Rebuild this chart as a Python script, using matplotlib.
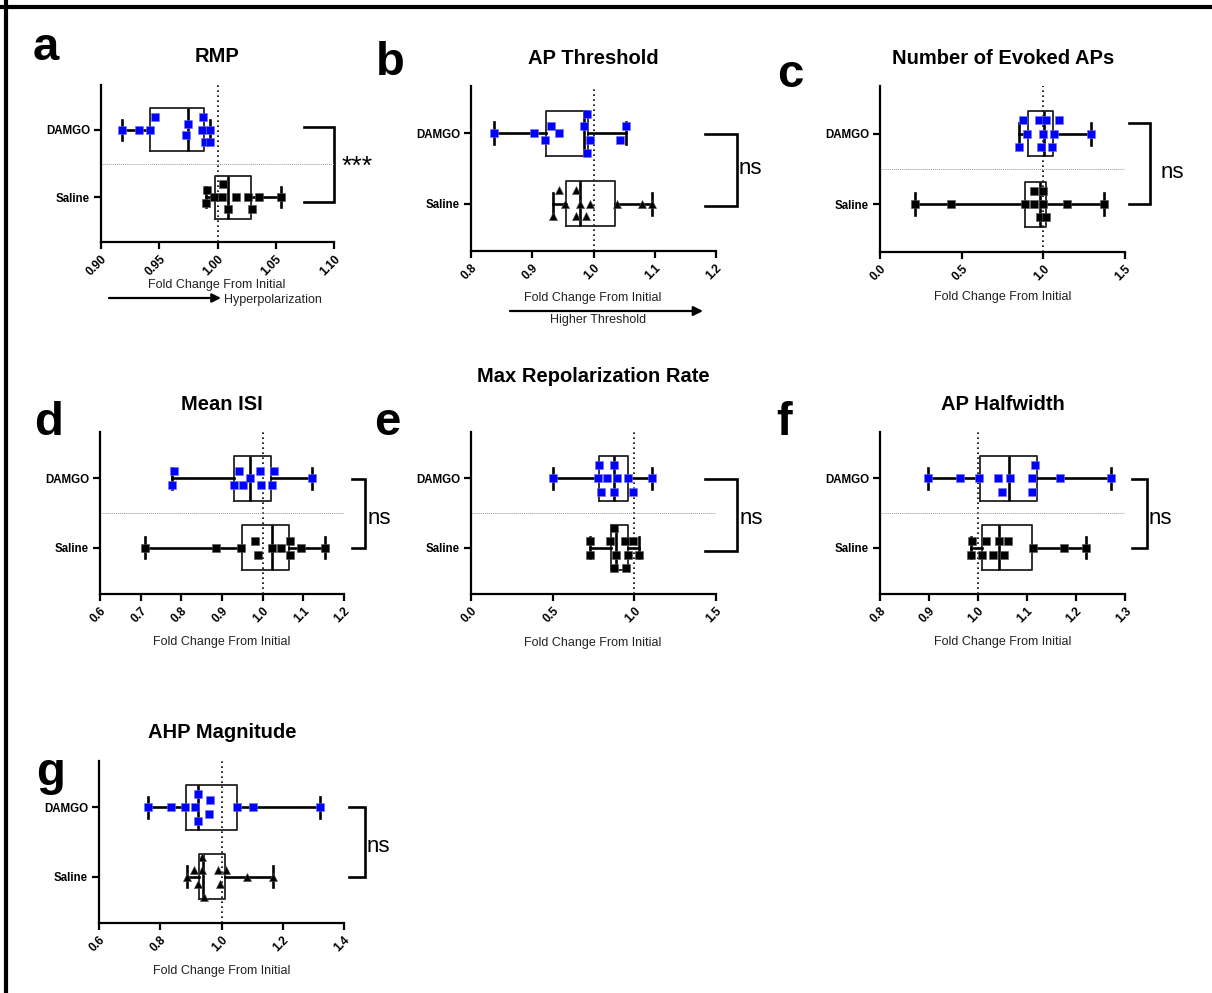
import numpy as np
import matplotlib
matplotlib.use("Agg")
import matplotlib.pyplot as plt

plt.rcParams['font.family'] = ['Liberation Sans', 'DejaVu Sans']

# ---------------- data (fold change from initial) ----------------
categories = ['DAMGO', 'Saline']

# a  RMP
rmp_damgo = [0.918, 0.9326, 0.9423, 0.946, 0.975, 0.9726, 0.9877, 0.9869, 0.9937, 0.989, 0.9937]
rmp_damgo_jit = [0, 0, 0, 0.19, 0.09, -0.075, 0.19, 0, 0, -0.18, -0.18]
rmp_saline = [0.9909, 0.990, 0.9969, 1.0037, 1.0043, 1.0086, 1.0163, 1.0263, 1.0297, 1.036, 1.0549]
rmp_saline_jit = [0.1, -0.09, 0, 0, 0.19, -0.18, 0, 0, -0.18, 0, 0]
rmp_damgo_box = [0.918, 0.9423, 0.975, 0.988, 0.9937]     # min, q1, median, q3, max
rmp_saline_box = [0.990, 0.9977, 1.0086, 1.0291, 1.0549]

# b  AP threshold
thr_damgo = [0.8376, 0.9023, 0.9312, 0.9431, 0.9214, 0.984, 0.990, 0.9943, 0.990, 1.0525, 1.0433]
thr_damgo_jit = [0, 0, 0.105, 0, -0.095, 0.105, 0.28, -0.095, -0.28, 0.105, -0.095]
thr_saline = [0.9339, 0.9437, 0.953, 0.9709, 0.972, 0.978, 0.9877, 0.9948, 1.0378, 1.0786, 1.0955]
thr_saline_jit = [-0.18, 0.195, 0, 0.195, -0.18, 0, -0.18, 0, 0, 0, 0]
thr_damgo_box = [0.8376, 0.923, 0.9845, 0.991, 1.0525]
thr_saline_box = [0.9339, 0.9546, 0.978, 1.0351, 1.0955]

# c  number of evoked APs
nap_damgo = [0.849, 0.876, 0.902, 0.971, 1.018, 0.998, 0.988, 1.053, 1.065, 1.098, 1.294]
nap_damgo_jit = [-0.19, 0.19, 0, 0.19, 0.19, 0, -0.19, -0.19, 0, 0.19, 0]
nap_saline = [0.216, 0.433, 0.886, 0.943, 0.943, 0.998, 0.998, 0.978, 1.018, 1.143, 1.369]
nap_saline_jit = [0, 0, 0, 0.19, 0, 0.19, 0, -0.18, -0.18, 0, 0]
nap_damgo_box = [0.849, 0.906, 1.004, 1.059, 1.294]
nap_saline_box = [0.216, 0.890, 0.978, 1.014, 1.369]

# d  mean ISI
isi_damgo = [0.782, 0.777, 0.929, 0.9425, 0.952, 0.969, 0.993, 0.9965, 1.022, 1.027, 1.1215]
isi_damgo_jit = [0.1, -0.09, -0.09, 0.1, -0.09, 0, 0.1, -0.09, -0.09, 0.1, 0]
isi_saline = [0.7095, 0.886, 0.947, 0.980, 0.989, 1.024, 1.046, 1.066, 1.066, 1.0946, 1.153]
isi_saline_jit = [0, 0, 0, 0.09, -0.1, 0, 0, 0.09, -0.1, 0, 0]
isi_damgo_box = [0.777, 0.9294, 0.9687, 1.0194, 1.1215]
isi_saline_box = [0.7095, 0.950, 1.0226, 1.064, 1.153]

# e  max repolarization rate
rep_damgo = [0.502, 0.782, 0.778, 0.798, 0.835, 0.878, 0.896, 0.876, 0.963, 0.994, 1.108]
rep_damgo_jit = [0, 0.19, 0, -0.19, 0, 0.19, 0, -0.19, 0, -0.19, 0]
rep_saline = [0.731, 0.731, 0.853, 0.878, 0.878, 0.890, 0.943, 0.990, 0.963, 0.949, 1.027]
rep_saline_jit = [0.09, -0.1, 0.09, 0.28, -0.29, -0.1, 0.09, 0.09, -0.1, -0.29, -0.1]
rep_damgo_box = [0.502, 0.784, 0.873, 0.959, 1.108]
rep_saline_box = [0.731, 0.857, 0.890, 0.959, 1.027]

# f  AP halfwidth
hw_damgo = [0.8986, 0.964, 1.0014, 1.0415, 1.048, 1.0646, 1.110, 1.1163, 1.110, 1.168, 1.272]
hw_damgo_jit = [0, 0, 0, 0, -0.19, 0, 0, 0.19, -0.19, 0, 0]
hw_saline = [0.988, 0.985, 1.0075, 1.0156, 1.030, 1.043, 1.054, 1.062, 1.113, 1.1755, 1.2204]
hw_saline_jit = [0.09, -0.1, -0.1, 0.09, -0.1, 0.09, -0.1, 0.09, 0, 0, 0]
hw_damgo_box = [0.8986, 1.0034, 1.064, 1.121, 1.272]
hw_saline_box = [0.985, 1.0088, 1.042, 1.111, 1.2204]

# g  AHP magnitude
ahp_damgo = [0.761, 0.835, 0.880, 0.915, 0.922, 0.922, 0.961, 0.959, 1.052, 1.103, 1.3207]
ahp_damgo_jit = [0, 0, 0, 0, 0.19, -0.19, 0.1, -0.09, 0, 0, 0]
ahp_saline = [0.8876, 0.910, 0.924, 0.935, 0.9376, 0.943, 0.990, 0.9966, 1.016, 1.0826, 1.1696]
ahp_saline_jit = [0, 0.1, -0.1, 0.28, 0.1, -0.3, 0.1, -0.1, 0.1, 0, 0]
ahp_damgo_box = [0.761, 0.884, 0.922, 1.052, 1.3207]
ahp_saline_box = [0.8876, 0.925, 0.940, 1.013, 1.1696]

# ---------------- figure ----------------
W, H = 1212, 993
fig = plt.figure(figsize=(W / 100, H / 100), dpi=100)

ov = fig.add_axes([0, 0, 1, 1])
ov.set_xlim(0, W)
ov.set_ylim(H, 0)
ov.axis('off')


def add_ax(x0, y0, x1, y1):
    return fig.add_axes([x0 / W, 1 - y1 / H, (x1 - x0) / W, (y1 - y0) / H])


BLUE = '#0000ff'


def box_stats(b):
    return dict(whislo=b[0], q1=b[1], med=b[2], q3=b[3], whishi=b[4], fliers=[])


def panel(rect, xlim, ticks, fmt, dx, dj, sx, sj, dbox, sbox, smarker, separator):
    ax = add_ax(*rect)
    ax.set_xlim(*xlim)
    ax.set_ylim(-0.67, 1.67)
    ax.patch.set_alpha(0)
    ax.axvline(1.0, color='k', ls=(0, (1, 2)), lw=1.2, zorder=1)
    if separator:
        ax.axhline(0.5, color='#9a9a9a', ls=(0, (1, 1)), lw=0.7, zorder=1)
    for pos, b in ((1, dbox), (0, sbox)):
        ax.bxp([box_stats(b)], positions=[pos], widths=0.64, orientation='horizontal',
               showfliers=False, capwidths=0.31, manage_ticks=False,
               boxprops=dict(color='#222222', lw=1.3),
               whiskerprops=dict(color='k', lw=1.9),
               capprops=dict(color='k', lw=1.9),
               medianprops=dict(color='k', lw=1.9))
    ax.scatter(dx, 1 + np.asarray(dj), marker='s', s=27, color=BLUE,
               edgecolors='#6f6fff', linewidths=0.4, zorder=4)
    if smarker == '^':
        ax.scatter(sx, np.asarray(sj), marker='^', s=34, color='k',
                   edgecolors='#555555', linewidths=0.4, zorder=4)
    else:
        ax.scatter(sx, np.asarray(sj), marker='s', s=27, color='k',
                   edgecolors='#555555', linewidths=0.4, zorder=4)
    for s in ('top', 'right'):
        ax.spines[s].set_visible(False)
    for s in ('left', 'bottom'):
        ax.spines[s].set_linewidth(1.6)
    ax.set_yticks([1, 0])
    ax.set_yticklabels(categories, fontweight='bold', fontsize=8.3)
    ax.set_xticks(ticks)
    ax.set_xticklabels([fmt.format(t) for t in ticks], rotation=45, ha='right',
                       rotation_mode='anchor', fontweight='bold', fontsize=8.6)
    ax.tick_params(length=5, width=1.6, pad=3)
    return ax


panel((101, 85, 334, 242), (0.90, 1.10), [0.90, 0.95, 1.00, 1.05, 1.10], '{:.2f}',
      rmp_damgo, rmp_damgo_jit, rmp_saline, rmp_saline_jit, rmp_damgo_box, rmp_saline_box, 's', True)
panel((471, 86, 716, 251), (0.8, 1.2), [0.8, 0.9, 1.0, 1.1, 1.2], '{:.1f}',
      thr_damgo, thr_damgo_jit, thr_saline, thr_saline_jit, thr_damgo_box, thr_saline_box, '^', False)
panel((880, 86, 1125, 252), (0.0, 1.5), [0.0, 0.5, 1.0, 1.5], '{:.1f}',
      nap_damgo, nap_damgo_jit, nap_saline, nap_saline_jit, nap_damgo_box, nap_saline_box, 's', True)
panel((100, 432, 344, 594), (0.6, 1.2), [0.6, 0.7, 0.8, 0.9, 1.0, 1.1, 1.2], '{:.1f}',
      isi_damgo, isi_damgo_jit, isi_saline, isi_saline_jit, isi_damgo_box, isi_saline_box, 's', True)
panel((471, 432, 716, 594), (0.0, 1.5), [0.0, 0.5, 1.0, 1.5], '{:.1f}',
      rep_damgo, rep_damgo_jit, rep_saline, rep_saline_jit, rep_damgo_box, rep_saline_box, 's', True)
panel((880, 432, 1125, 594), (0.8, 1.3), [0.8, 0.9, 1.0, 1.1, 1.2, 1.3], '{:.1f}',
      hw_damgo, hw_damgo_jit, hw_saline, hw_saline_jit, hw_damgo_box, hw_saline_box, 's', True)
panel((99, 761, 344, 923), (0.6, 1.4), [0.6, 0.8, 1.0, 1.2, 1.4], '{:.1f}',
      ahp_damgo, ahp_damgo_jit, ahp_saline, ahp_saline_jit, ahp_damgo_box, ahp_saline_box, '^', False)

# ---------------- annotations (pixel coordinates on overlay) ----------------
# border
ov.plot([0, W], [6.5, 6.5], color='k', lw=3, solid_capstyle='butt')
ov.plot([5.5, 5.5], [0, H], color='k', lw=3, solid_capstyle='butt')

titles = [('RMP', 217, 57), ('AP Threshold', 593, 58), ('Number of Evoked APs', 1003, 58),
          ('Max Repolarization Rate', 593, 377), ('Mean ISI', 222, 404),
          ('AP Halfwidth', 1003, 404), ('AHP Magnitude', 222, 732)]
for t, x, y in titles:
    ov.text(x, y, t, ha='center', va='center', fontsize=14.5, fontweight='bold')

letters = [('a', 33, 60), ('b', 376, 75), ('c', 777, 87), ('d', 34, 435),
           ('e', 374, 435), ('f', 776, 435), ('g', 36, 785)]
for t, x, y in letters:
    ov.text(x, y, t, ha='left', va='baseline', fontsize=34, fontweight='bold')

xlabels = [(217, 285), (593, 298), (1003, 297), (222, 642), (593, 643), (1003, 642), (222, 971)]
for x, y in xlabels:
    ov.text(x, y, 'Fold Change From Initial', ha='center', va='center', fontsize=9, color='#222222')

# direction arrows
ov.annotate('', xy=(221, 298), xytext=(109, 298),
            arrowprops=dict(arrowstyle='-|>', lw=1.6, color='k', mutation_scale=13, shrinkA=0, shrinkB=0))
ov.text(224, 300, 'Hyperpolarization', ha='left', va='center', fontsize=9, color='#222222')
ov.annotate('', xy=(703, 311), xytext=(510, 311),
            arrowprops=dict(arrowstyle='-|>', lw=1.6, color='k', mutation_scale=14, shrinkA=0, shrinkB=0))
ov.text(598, 320, 'Higher Threshold', ha='center', va='center', fontsize=9, color='#222222')

# significance brackets
brackets = [((304, 334), (127, 202), '***', 342, 167),
            ((705, 737), (134, 206), 'ns', 739, 169),
            ((1129, 1150), (123, 204), 'ns', 1161, 173),
            ((352, 365), (479, 548), 'ns', 368, 518),
            ((705, 737), (479, 551), 'ns', 740, 519),
            ((1132, 1147), (479, 548), 'ns', 1149, 518),
            ((349, 365), (807, 877), 'ns', 367, 847)]
for (x0, x1), (y0, y1), lab, tx, ty in brackets:
    ov.plot([x0, x1, x1, x0], [y0, y0, y1, y1], color='k', lw=1.9, solid_joinstyle='miter')
    ov.text(tx, ty, lab, ha='left', va='center', fontsize=16 if lab == 'ns' else 19)

fig.savefig('out.png', dpi=100)
